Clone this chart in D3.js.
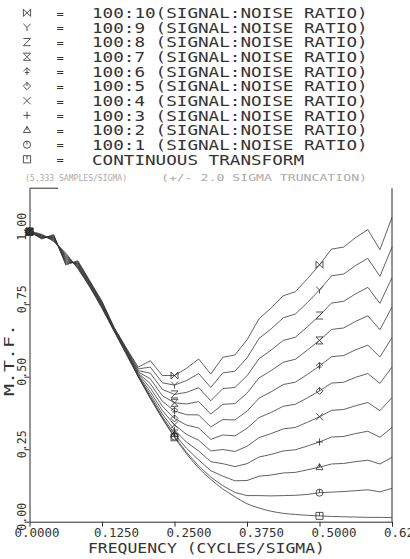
<!DOCTYPE html>
<html><head><meta charset="utf-8">
<script src="https://cdn.jsdelivr.net/npm/d3@7"></script>
<style>
body{margin:0;background:#fff;}
svg{display:block;}
text{font-family:"DejaVu Sans Mono",monospace;fill:#333;}
</style>
</head><body>
<svg id="chart" width="410" height="559"></svg>
<script>
// ---------- data ----------
const frequencies = [0.0000,0.0208,0.0417,0.0625,0.0833,0.1042,0.1250,0.1458,0.1667,0.1875,0.2083,0.2292,0.2500,0.2708,0.2917,0.3125,0.3333,0.3542,0.3750,0.3958,0.4167,0.4375,0.4583,0.4792,0.5000,0.5208,0.5417,0.5625,0.5833,0.6042,0.6250];

const mtf_100_10 = [1.000,0.975,0.990,0.885,0.900,0.830,0.760,0.670,0.600,0.533,0.555,0.504,0.504,0.529,0.561,0.509,0.567,0.575,0.627,0.700,0.737,0.779,0.793,0.838,0.886,0.940,0.947,0.980,1.007,0.938,1.050];
const mtf_100_9  = [1.000,0.977,0.988,0.889,0.897,0.828,0.758,0.669,0.598,0.527,0.533,0.479,0.471,0.487,0.511,0.463,0.513,0.519,0.565,0.632,0.665,0.703,0.716,0.756,0.799,0.848,0.854,0.884,0.908,0.846,0.947];
const mtf_100_8  = [1.000,0.978,0.985,0.893,0.894,0.826,0.755,0.667,0.596,0.521,0.512,0.456,0.439,0.446,0.462,0.417,0.459,0.463,0.503,0.562,0.592,0.625,0.636,0.672,0.711,0.754,0.760,0.786,0.808,0.753,0.842];
const mtf_100_7  = [1.000,0.980,0.983,0.897,0.892,0.823,0.753,0.666,0.593,0.516,0.493,0.434,0.410,0.406,0.414,0.371,0.405,0.407,0.443,0.496,0.521,0.550,0.560,0.592,0.625,0.663,0.668,0.691,0.710,0.662,0.740];
const mtf_100_6  = [1.000,0.981,0.980,0.901,0.889,0.821,0.750,0.665,0.591,0.512,0.476,0.415,0.382,0.369,0.368,0.327,0.352,0.351,0.381,0.426,0.448,0.473,0.481,0.508,0.537,0.569,0.573,0.593,0.609,0.568,0.635];
const mtf_100_5  = [1.000,0.983,0.978,0.906,0.886,0.819,0.748,0.664,0.589,0.509,0.461,0.398,0.356,0.333,0.323,0.284,0.299,0.296,0.322,0.359,0.377,0.398,0.405,0.427,0.451,0.478,0.481,0.498,0.511,0.477,0.533];
const mtf_100_4  = [1.000,0.985,0.976,0.910,0.883,0.817,0.745,0.662,0.587,0.505,0.448,0.383,0.334,0.301,0.281,0.244,0.249,0.242,0.260,0.290,0.304,0.320,0.325,0.343,0.362,0.384,0.387,0.400,0.411,0.383,0.428];
const mtf_100_3  = [1.000,0.986,0.973,0.914,0.880,0.815,0.743,0.661,0.585,0.503,0.438,0.371,0.316,0.274,0.244,0.207,0.200,0.190,0.200,0.223,0.232,0.244,0.248,0.261,0.275,0.292,0.294,0.304,0.312,0.291,0.325];
const mtf_100_2  = [1.000,0.988,0.971,0.918,0.878,0.812,0.740,0.660,0.582,0.501,0.431,0.362,0.302,0.253,0.213,0.176,0.157,0.141,0.142,0.157,0.161,0.168,0.170,0.179,0.188,0.199,0.201,0.207,0.212,0.199,0.222];
const mtf_100_1  = [1.000,0.989,0.968,0.922,0.875,0.810,0.738,0.658,0.580,0.500,0.427,0.357,0.294,0.239,0.192,0.154,0.124,0.101,0.090,0.090,0.089,0.090,0.091,0.094,0.100,0.102,0.104,0.107,0.110,0.103,0.115];
const mtfContinuous = [1.000,0.991,0.966,0.926,0.872,0.808,0.735,0.657,0.578,0.500,0.425,0.355,0.291,0.234,0.185,0.146,0.113,0.086,0.062,0.047,0.036,0.029,0.025,0.022,0.020,0.018,0.017,0.016,0.015,0.015,0.014];

const legendLabels = ["100:10(SIGNAL:NOISE RATIO)","100:9 (SIGNAL:NOISE RATIO)","100:8 (SIGNAL:NOISE RATIO)","100:7 (SIGNAL:NOISE RATIO)","100:6 (SIGNAL:NOISE RATIO)","100:5 (SIGNAL:NOISE RATIO)","100:4 (SIGNAL:NOISE RATIO)","100:3 (SIGNAL:NOISE RATIO)","100:2 (SIGNAL:NOISE RATIO)","100:1 (SIGNAL:NOISE RATIO)","CONTINUOUS TRANSFORM"];
const symbolTypes = ["bowtie","Y","Z","hourglass","arrow","diamond","x","plus","triangle","circle","square"];
const subtitleLeft = "(5.333 SAMPLES/SIGMA)";
const subtitleRight = "(+/- 2.0 SIGMA TRUNCATION)";
const xTicks = [0,0.125,0.25,0.375,0.5,0.625];
const yTicks = [0,0.25,0.5,0.75,1.00];
const markerFreqs = [0,0.25,0.5];
const xTitle = "FREQUENCY (CYCLES/SIGMA)";
const yTitle = "M.T.F.";

const seriesValues = [mtf_100_10,mtf_100_9,mtf_100_8,mtf_100_7,mtf_100_6,mtf_100_5,mtf_100_4,mtf_100_3,mtf_100_2,mtf_100_1,mtfContinuous];

// ---------- drawing ----------
const svg = d3.select("#chart");
const ink = "#2a2a2a";
const x = d3.scaleLinear().domain([0,0.625]).range([29.5,392]);
const y = d3.scaleLinear().domain([0,1.15]).range([521.7,188.2]);

function symPath(t,s){
  switch(t){
    case "bowtie": return `M${-s},${-s}L${s},${s}L${s},${-s}L${-s},${s}Z`;
    case "hourglass": return `M${-s},${-s}L${s},${-s}L${-s},${s}L${s},${s}Z`;
    case "Y": return `M${-s},${-s}L0,0L${s},${-s}M0,0L0,${s}`;
    case "Z": return `M${-s},${-s}L${s},${-s}L${-s},${s}L${s},${s}`;
    case "arrow": return `M${-s},${-s*0.1}L0,${-s}L${s},${-s*0.1}M0,${-s}L0,${s}M${-s*0.6},${s*0.3}L${s*0.6},${s*0.3}`;
    case "diamond": return `M0,${-s}L${s},0L0,${s}L${-s},0ZM0,0L0,${-s}`;
    case "x": return `M${-s},${-s}L${s},${s}M${s},${-s}L${-s},${s}`;
    case "plus": return `M${-s},0L${s},0M0,${-s}L0,${s}`;
    case "triangle": return `M${-s},${s*0.7}L0,${-s}L${s},${s*0.7}ZM0,0L0,${-s}`;
    case "circle": return `M${s},0A${s},${s} 0 1,1 ${-s},0A${s},${s} 0 1,1 ${s},0M0,0L0,${-s}`;
    case "square": return `M${-s},${-s}L${s},${-s}L${s},${s}L${-s},${s}ZM0,0L0,${-s}`;
  }
}

// legend
const rowY = i => 12.8 + 14.65*i;
const leg = svg.append("g");
legendLabels.forEach((lab,i)=>{
  const cy = rowY(i);
  leg.append("path").attr("d",symPath(symbolTypes[i],3.6)).attr("transform",`translate(27,${cy})`)
    .attr("fill","none").attr("stroke",ink).attr("stroke-width",0.8);
  leg.append("text").attr("x",60).attr("y",cy+4.8).attr("text-anchor","middle").attr("font-size",12).text("=");
  leg.append("text").attr("x",92).attr("y",cy+5.2).attr("font-size",13.6)
    .attr("textLength",lab.length*10.6).attr("lengthAdjust","spacingAndGlyphs").text(lab);
});
svg.append("text").attr("x",25).attr("y",180.5).attr("font-size",9.5).style("fill","#aaa")
  .attr("textLength",102).attr("lengthAdjust","spacingAndGlyphs").text(subtitleLeft);
svg.append("text").attr("x",161).attr("y",180.5).attr("font-size",9.5).style("fill","#aaa")
  .attr("textLength",206).attr("lengthAdjust","spacingAndGlyphs").text(subtitleRight);

// axes
const gx = svg.append("g").attr("transform",`translate(0,${y(0)})`)
  .call(d3.axisBottom(x).tickValues(xTicks).tickSize(5).tickSizeOuter(0).tickFormat(""));
const gy = svg.append("g").attr("transform",`translate(${x(0)},0)`)
  .call(d3.axisLeft(y).tickValues(yTicks).tickSize(5).tickSizeOuter(0).tickFormat(""));
[gx,gy].forEach(g=>{g.selectAll("path,line").attr("stroke",ink).attr("stroke-width",1);});
svg.append("line").attr("x1",x(0.625)).attr("x2",x(0.625)).attr("y1",y(0)).attr("y2",y(1.15)).attr("stroke",ink);
svg.append("line").attr("x1",x(0)).attr("x2",x(0)+28.5).attr("y1",y(1.15)).attr("y2",y(1.15)).attr("stroke",ink);

const fx = d3.format(".4f"), fy = d3.format(".2f");
svg.append("g").selectAll("text").data(xTicks).join("text")
  .attr("x",(d,i)=>x(d)-(i===0?15:8)).attr("y",537).attr("font-size",12.5)
  .attr("textLength",45).attr("lengthAdjust","spacingAndGlyphs").text(d=>fx(d));
svg.append("g").selectAll("text").data(yTicks).join("text")
  .attr("transform",d=>`translate(25.5,${y(d)-5}) rotate(-90)`).attr("text-anchor","middle")
  .attr("font-size",11.5).attr("textLength",28).attr("lengthAdjust","spacingAndGlyphs").text(d=>fy(d));
svg.append("text").attr("x",88).attr("y",553).attr("font-size",13.5)
  .attr("textLength",237).attr("lengthAdjust","spacingAndGlyphs").text(xTitle);
svg.append("text").attr("transform","translate(13.5,360) rotate(-90)").attr("text-anchor","middle")
  .attr("font-size",13.5).attr("textLength",72).attr("lengthAdjust","spacingAndGlyphs").text(yTitle);

// curves
const plot = svg.append("g");
seriesValues.forEach((vals,i)=>{
  const pts = frequencies.map((f,k)=>[f,vals[k]]);
  const line = d3.line().x(d=>x(d[0])).y(d=>y(d[1]))
    .curve(i===seriesValues.length-1 ? d3.curveMonotoneX : d3.curveLinear);
  plot.append("path").attr("d",line(pts)).attr("fill","none").attr("stroke","#3a3a3a").attr("stroke-width",0.8);
  pts.filter(p=>markerFreqs.some(m=>Math.abs(m-p[0])<1e-6)).forEach(p=>{
    plot.append("path").attr("d",symPath(symbolTypes[i],3.5))
      .attr("transform",`translate(${x(p[0])},${y(p[1])})`)
      .attr("fill","none").attr("stroke",ink).attr("stroke-width",0.8);
  });
});
</script>
</body></html>
